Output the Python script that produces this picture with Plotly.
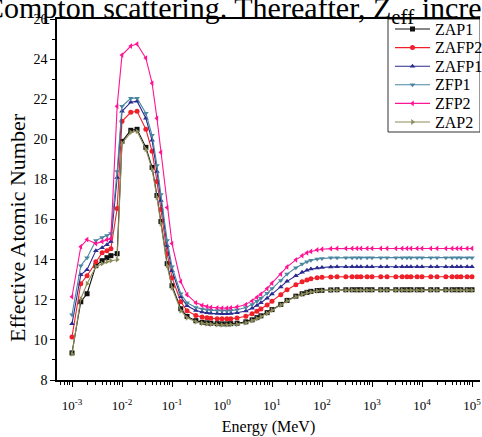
import plotly.graph_objects as go

# Photon energies (MeV)
energy = [
    0.001, 0.0015, 0.002, 0.003, 0.004, 0.005, 0.006, 0.008,
    0.01, 0.015, 0.02, 0.03, 0.04, 0.05, 0.06, 0.08,
    0.1, 0.15, 0.2, 0.3, 0.4, 0.5, 0.6, 0.8,
    1, 1.25, 1.5, 2, 3, 4, 5, 6, 8,
    10, 15, 20, 30, 40, 50, 60, 80,
    100, 150, 200, 300, 400, 500, 600, 800,
    1000, 1500, 2000, 3000, 4000, 5000, 6000, 8000,
    10000, 15000, 20000, 30000, 40000, 50000, 60000, 80000, 100000,
]

zap1 = [
    9.35, 11.9, 12.3, 13.7, 13.95, 14.1, 14.2, 14.3,
    19.9, 20.45, 20.5, 19.6, 18.6, 17.2, 15.9, 13.8,
    12.7, 11.55, 11.17, 10.96, 10.88, 10.85, 10.83, 10.81,
    10.8, 10.8, 10.81, 10.83, 10.9, 11.0, 11.11, 11.2, 11.36,
    11.51, 11.77, 11.97, 12.18, 12.3, 12.37, 12.42, 12.46,
    12.47, 12.49, 12.5, 12.5, 12.5, 12.5, 12.5, 12.5,
    12.5, 12.5, 12.5, 12.5, 12.5, 12.5, 12.5, 12.5,
    12.5, 12.5, 12.5, 12.5, 12.5, 12.5, 12.5, 12.5, 12.5,
]

zafp2 = [
    10.15, 12.8, 13.2, 13.9, 14.35, 14.45, 14.55, 16.55,
    20.9, 21.35, 21.4, 20.5, 19.4, 17.9, 16.5, 14.3,
    13.1, 11.9, 11.45, 11.22, 11.14, 11.1, 11.08, 11.06,
    11.05, 11.05, 11.06, 11.09, 11.18, 11.3, 11.43, 11.54, 11.74,
    11.93, 12.25, 12.5, 12.75, 12.9, 12.99, 13.05, 13.1,
    13.12, 13.14, 13.15, 13.15, 13.15, 13.15, 13.15, 13.15,
    13.15, 13.15, 13.15, 13.15, 13.15, 13.15, 13.15, 13.15,
    13.15, 13.15, 13.15, 13.15, 13.15, 13.15, 13.15, 13.15, 13.15,
]

zafp1 = [
    10.8, 13.25, 13.5, 14.45, 14.6, 14.75, 14.9, 18.1,
    21.4, 21.85, 21.9, 21.05, 19.95, 18.4, 16.95, 14.7,
    13.45, 12.15, 11.7, 11.47, 11.39, 11.35, 11.33, 11.31,
    11.3, 11.3, 11.31, 11.35, 11.44, 11.58, 11.72, 11.85, 12.08,
    12.29, 12.64, 12.92, 13.2, 13.37, 13.47, 13.53, 13.59,
    13.61, 13.64, 13.65, 13.65, 13.65, 13.65, 13.65, 13.65,
    13.65, 13.65, 13.65, 13.65, 13.65, 13.65, 13.65, 13.65,
    13.65, 13.65, 13.65, 13.65, 13.65, 13.65, 13.65, 13.65, 13.65,
]

zfp1 = [
    11.25, 13.7, 14.1, 14.95, 15.1, 15.2, 15.3, 18.4,
    21.65, 22.05, 22.05, 21.3, 20.2, 18.7, 17.25, 14.95,
    13.65, 12.3, 11.85, 11.62, 11.54, 11.5, 11.48, 11.46,
    11.45, 11.45, 11.46, 11.5, 11.61, 11.77, 11.93, 12.07, 12.32,
    12.56, 12.96, 13.28, 13.6, 13.78, 13.9, 13.97, 14.03,
    14.06, 14.09, 14.1, 14.1, 14.1, 14.1, 14.1, 14.1,
    14.1, 14.1, 14.1, 14.1, 14.1, 14.1, 14.1, 14.1,
    14.1, 14.1, 14.1, 14.1, 14.1, 14.1, 14.1, 14.1, 14.1,
]

zfp2 = [
    12.15, 14.65, 15.0, 14.8, 14.9, 15.0, 15.05, 21.65,
    24.2, 24.65, 24.75, 24.05, 22.8, 21.05, 19.35, 16.6,
    14.8, 12.9, 12.25, 11.85, 11.72, 11.66, 11.62, 11.6,
    11.58, 11.58, 11.6, 11.64, 11.76, 11.94, 12.12, 12.28, 12.56,
    12.83, 13.28, 13.64, 13.99, 14.2, 14.34, 14.41, 14.49,
    14.52, 14.55, 14.56, 14.56, 14.56, 14.56, 14.56, 14.56,
    14.56, 14.56, 14.56, 14.56, 14.56, 14.56, 14.56, 14.56,
    14.56, 14.56, 14.56, 14.56, 14.56, 14.56, 14.56, 14.56, 14.56,
]

zap2 = [
    9.3, 12.05, 12.8, 13.65, 13.8, 13.9, 13.95, 14.0,
    19.8, 20.35, 20.4, 19.5, 18.5, 17.1, 15.8, 13.7,
    12.6, 11.45, 11.1, 10.9, 10.83, 10.8, 10.78, 10.76,
    10.75, 10.75, 10.76, 10.78, 10.85, 10.96, 11.06, 11.16, 11.32,
    11.48, 11.74, 11.94, 12.15, 12.27, 12.35, 12.39, 12.44,
    12.46, 12.47, 12.48, 12.48, 12.48, 12.48, 12.48, 12.48,
    12.48, 12.48, 12.48, 12.48, 12.48, 12.48, 12.48, 12.48,
    12.48, 12.48, 12.48, 12.48, 12.48, 12.48, 12.48, 12.48, 12.48,
]

series = [
    ("ZAP1", zap1, "#111111", "square"),
    ("ZAFP2", zafp2, "#f0202a", "circle"),
    ("ZAFP1", zafp1, "#2a2a90", "triangle-up"),
    ("ZFP1", zfp1, "#4a86a0", "triangle-down"),
    ("ZFP2", zfp2, "#ff1493", "triangle-left"),
    ("ZAP2", zap2, "#8c8c5a", "triangle-right"),
]

decade_ticks = [1e-3, 1e-2, 1e-1, 1e0, 1e1, 1e2, 1e3, 1e4, 1e5]
decade_labels = ["10<sup>-3</sup>", "10<sup>-2</sup>", "10<sup>-1</sup>", "10<sup>0</sup>",
                 "10<sup>1</sup>", "10<sup>2</sup>", "10<sup>3</sup>", "10<sup>4</sup>",
                 "10<sup>5</sup>"]
minor_x = [m * 10.0 ** p for p in range(-4, 6) for m in range(2, 10)]

SERIF = "Liberation Serif"

W, H = 482, 437
L, R, T, B = 57, 2, 19, 57
plot_w = W - L - R
plot_h = H - T - B

fig = go.Figure()
for name, vals, color, symbol in series:
    fig.add_trace(go.Scatter(
        x=energy, y=vals, name=name, mode="lines+markers",
        line=dict(color=color, width=1.1),
        marker=dict(symbol=symbol, size=5, color=color),
        showlegend=False,
    ))

# Compact boxed legend drawn on a pixel-scaled overlay axis (origin at plot top-left)
LEG_X0, LEG_X1 = 388 - L, W - R - L
LEG_Y0 = 0
ROW0, ROW_STEP = 10, 18.6
SAMPLE_X0, SAMPLE_X1 = 395 - L, 430 - L
TEXT_X = 433 - L
leg_bottom = ROW0 + ROW_STEP * (len(series) - 1) + 10

fig.add_shape(type="rect", xref="x2", yref="y2",
              x0=LEG_X0, x1=LEG_X1, y0=LEG_Y0, y1=leg_bottom,
              line=dict(color="#333333", width=1), fillcolor="white", layer="below")
for i, (name, vals, color, symbol) in enumerate(series):
    row_y = ROW0 + ROW_STEP * i
    fig.add_trace(go.Scatter(
        x=[SAMPLE_X0, SAMPLE_X1], y=[row_y, row_y],
        xaxis="x2", yaxis="y2", mode="lines",
        line=dict(color=color, width=1.1), showlegend=False, hoverinfo="skip",
    ))
    fig.add_trace(go.Scatter(
        x=[(SAMPLE_X0 + SAMPLE_X1) / 2], y=[row_y],
        xaxis="x2", yaxis="y2", mode="markers",
        marker=dict(symbol=symbol, size=5, color=color), showlegend=False, hoverinfo="skip",
    ))
    fig.add_annotation(
        text=name, xref="x2", yref="y2", x=TEXT_X, y=row_y,
        xanchor="left", yanchor="middle", showarrow=False,
        font=dict(family=SERIF, size=16, color="black"),
    )

fig.update_layout(
    width=W, height=H,
    margin=dict(l=L, r=R, t=T, b=B, pad=0),
    paper_bgcolor="white", plot_bgcolor="white",
    font=dict(family=SERIF, color="black", size=13),
    showlegend=False,
    xaxis=dict(
        type="log", range=[-3.3, 5.16],
        tickmode="array", tickvals=decade_ticks, ticktext=decade_labels,
        ticks="outside", ticklen=5, tickwidth=1, tickcolor="black",
        ticklabelstandoff=8,
        minor=dict(tickmode="array", tickvals=minor_x, ticks="outside",
                   ticklen=3, tickwidth=1, tickcolor="black"),
        showline=True, linecolor="black", linewidth=1.5, mirror=True,
        showgrid=False, zeroline=False,
        tickfont=dict(family=SERIF, size=13),
        title=dict(text="Energy (MeV)", font=dict(family=SERIF, size=16), standoff=8),
    ),
    yaxis=dict(
        range=[8, 26], dtick=2, tick0=8,
        ticks="outside", ticklen=5, tickwidth=1, tickcolor="black",
        minor=dict(dtick=1, ticks="outside", ticklen=3, tickwidth=1, tickcolor="black"),
        showline=True, linecolor="black", linewidth=1.5,
        showgrid=False, zeroline=False,
        tickfont=dict(family=SERIF, size=14),
    ),
    xaxis2=dict(overlaying="x", range=[0, plot_w], visible=False, fixedrange=True),
    yaxis2=dict(overlaying="y", range=[plot_h, 0], visible=False, fixedrange=True),
)

# y-axis title, set a little below the plot's middle
fig.add_annotation(
    text="Effective Atomic Number", xref="paper", yref="paper",
    x=(17 - L) / plot_w, y=1 - (228 - T) / plot_h,
    xanchor="center", yanchor="middle", textangle=-90, showarrow=False,
    font=dict(family=SERIF, size=22, color="black"),
)

# running text of the page, cut by the top edge
fig.add_annotation(
    text="Compton scattering. Thereafter, Z<sub>eff</sub> increases",
    xref="paper", yref="paper",
    x=(-18 - L) / plot_w, y=1 + (T - 10) / plot_h,
    xanchor="left", yanchor="middle", showarrow=False,
    font=dict(family=SERIF, size=30, color="black"),
)

fig.write_html("out.html")
